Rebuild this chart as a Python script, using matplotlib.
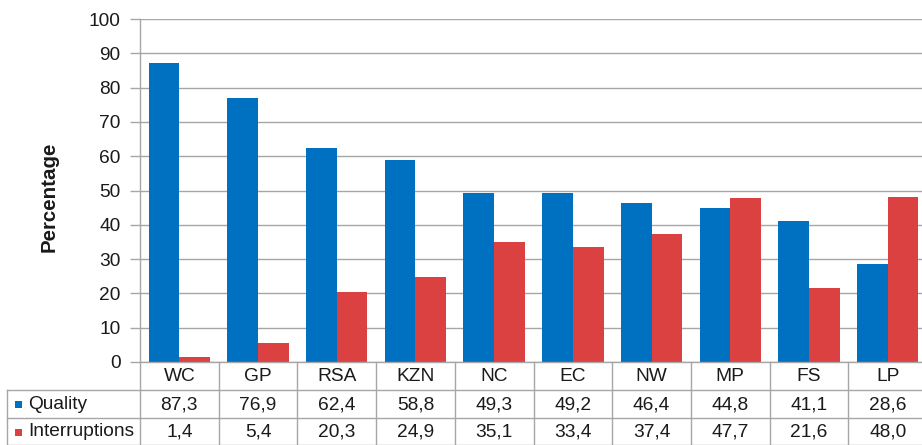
import matplotlib
matplotlib.use("Agg")
import matplotlib.pyplot as plt
import numpy as np
from matplotlib.transforms import blended_transform_factory
from matplotlib.lines import Line2D
from matplotlib.patches import Rectangle

categories = ["WC", "GP", "RSA", "KZN", "NC", "EC", "NW", "MP", "FS", "LP"]
quality = [87.3, 76.9, 62.4, 58.8, 49.3, 49.2, 46.4, 44.8, 41.1, 28.6]
interruptions = [1.4, 5.4, 20.3, 24.9, 35.1, 33.4, 37.4, 47.7, 21.6, 48.0]
series_names = ["Quality", "Interruptions"]
yticks = [0, 10, 20, 30, 40, 50, 60, 70, 80, 90, 100]

BLUE = "#0070C0"
RED = "#DC4141"
GRID = "#A6A6A6"
FS = 13.8
TXT = "#1a1a1a"

plt.rcParams['font.family'] = ['Liberation Sans', 'DejaVu Sans']

W, H = 922, 445
fig = plt.figure(figsize=(W / 100, H / 100), dpi=100)

left_px, right_px, top_px, bottom_px = 140, 927, 19, 362
ax = fig.add_axes([left_px / W, 1 - bottom_px / H,
                   (right_px - left_px) / W, (bottom_px - top_px) / H])

x = np.arange(len(categories))
bw = 0.39
ax.bar(x - bw / 2, quality, width=bw, color=BLUE, zorder=3, linewidth=0)
ax.bar(x + bw / 2, interruptions, width=bw, color=RED, zorder=3, linewidth=0)

ax.set_xlim(-0.5, len(categories) - 0.5)
ax.set_ylim(0, 100)
ax.set_yticks(yticks)
ax.set_yticklabels([str(t) for t in yticks], fontsize=FS, color=TXT)
ax.set_xticks([])
ax.tick_params(axis='y', length=7, width=1, color=GRID, pad=7)
ax.yaxis.grid(True, color=GRID, linewidth=1, zorder=0)
ax.set_axisbelow(True)
for s in ["top", "right", "bottom"]:
    ax.spines[s].set_visible(False)
ax.spines["left"].set_color(GRID)
ax.spines["left"].set_linewidth(1)

fig.text(49 / W, 1 - 197 / H, "Percentage", rotation=90, fontsize=14.8,
         fontweight="bold", ha="center", va="center", color=TXT)

# Data table below axes
trans = blended_transform_factory(ax.transData, fig.transFigure)
def fy(py):
    return 1 - py / H

line_kw = dict(color=GRID, linewidth=1, clip_on=False)
for py in (390, 418, 444.5):
    fig.add_artist(Line2D([7 / W, 1], [fy(py), fy(py)], transform=fig.transFigure, **line_kw))
fig.add_artist(Line2D([left_px / W, 1], [fy(bottom_px), fy(bottom_px)],
                      transform=fig.transFigure, **line_kw))
for b in np.arange(-0.5, len(categories) + 0.5, 1.0):
    fig.add_artist(Line2D([b, b], [fy(bottom_px), fy(445)], transform=trans, **line_kw))
fig.add_artist(Line2D([7 / W, 7 / W], [fy(390), fy(445)], transform=fig.transFigure, **line_kw))

for i, c in enumerate(categories):
    fig.text(i, fy(376.5), c, transform=trans, ha="center", va="center",
             fontsize=FS, color=TXT)

rows = [quality, interruptions]
colors = [BLUE, RED]
row_centers = [404.5, 432]
for r, (vals, col, cy) in enumerate(zip(rows, colors, row_centers)):
    fig.add_artist(Rectangle((15 / W, fy(cy + 3.5)), 7 / W, 7 / H,
                             transform=fig.transFigure, color=col, linewidth=0))
    fig.text(28 / W, fy(cy), series_names[r], ha="left", va="center",
             fontsize=FS, color=TXT)
    for i, v in enumerate(vals):
        fig.text(i, fy(cy), f"{v:.1f}".replace(".", ","), transform=trans,
                 ha="center", va="center", fontsize=FS, color=TXT)

fig.savefig("out.png", dpi=100)
